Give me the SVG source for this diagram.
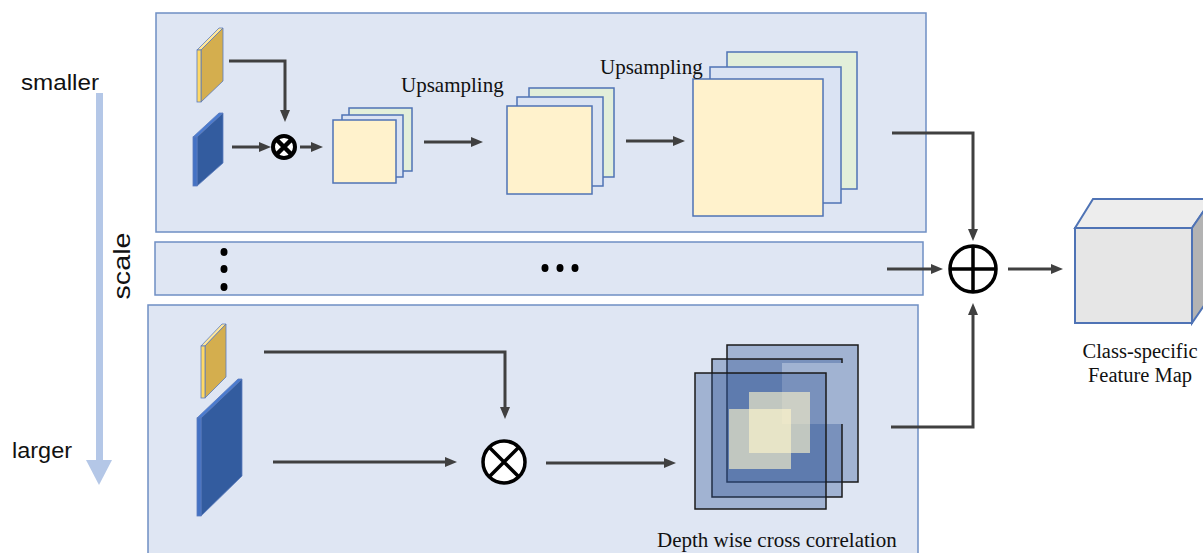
<svg xmlns="http://www.w3.org/2000/svg" width="1203" height="553" viewBox="0 0 1203 553">
<style>
.panel{fill:#dfe6f3;stroke:#6f8fc4;stroke-width:1.5}
.card{stroke:#4f73b5;stroke-width:1.5}
.cream{fill:#fff2cc}
.lblue{fill:#dae3f3}
.green{fill:#e2efda}
.conn{fill:none;stroke:#404040;stroke-width:3}
.serif{font-family:"Liberation Serif","Times New Roman",serif;fill:#111}
.sans{font-family:"Liberation Sans",Arial,sans-serif;fill:#111}
.dw{fill:#2f5496;fill-opacity:0.35}
.dwline{fill:none;stroke:#1a1a1a;stroke-width:1.5}
.light{fill:#fff5cc;fill-opacity:0.62}
.op{fill:#fff;stroke:#000}
.plate{stroke:#5b7bbd;stroke-width:0.8}
</style>
<defs>
<marker id="ah" markerUnits="userSpaceOnUse" markerWidth="12" markerHeight="10" viewBox="0 0 12 10" refX="2" refY="5" orient="auto">
<path d="M0,0 L12,5 L0,10 z" fill="#404040"/>
</marker>
</defs>

<!-- scale indicator -->
<g id="scale">
<rect x="96" y="93" width="7" height="368" fill="#b4c7e7"/>
<polygon points="86,460 112,460 99,485" fill="#b4c7e7"/>
<text class="sans" x="21" y="90" font-size="22" textLength="78" lengthAdjust="spacingAndGlyphs">smaller</text>
<text class="sans" x="12" y="458" font-size="22" textLength="60" lengthAdjust="spacingAndGlyphs">larger</text>
<text class="sans" transform="translate(130,266) rotate(-90)" text-anchor="middle" font-size="24" textLength="67" lengthAdjust="spacingAndGlyphs">scale</text>
</g>

<!-- panels -->
<g id="panel-top">
<rect class="panel" x="156" y="13" width="770" height="219"/>
</g>
<g id="panel-mid">
<rect class="panel" x="155" y="242" width="768" height="53"/>
<ellipse cx="224" cy="252" rx="3.5" ry="4" fill="#000"/>
<ellipse cx="224" cy="269" rx="3.5" ry="4" fill="#000"/>
<ellipse cx="224" cy="287" rx="3.5" ry="4" fill="#000"/>
<ellipse cx="545" cy="268" rx="3.5" ry="4" fill="#000"/>
<ellipse cx="560" cy="268" rx="3.5" ry="4" fill="#000"/>
<ellipse cx="575" cy="268" rx="3.5" ry="4" fill="#000"/>
</g>
<g id="panel-bottom">
<rect class="panel" x="148" y="305" width="770" height="260"/>
</g>

<!-- top branch -->
<g id="top-template">
<polygon class="plate" points="197,50 219,28 223,28 201,50" fill="#ffe699"/>
<polygon class="plate" points="201,50 223,28 223,81 201,102" fill="#d4ae4e"/>
<rect class="plate" x="197" y="50" width="4" height="52" fill="#ffd966"/>
</g>
<g id="top-search">
<polygon class="plate" points="193,137 219,113 223,113 197,137" fill="#4a7bd0"/>
<polygon class="plate" points="197,137 223,113 223,163 197,186" fill="#335c9f"/>
<rect class="plate" x="193" y="137" width="4" height="49" fill="#4472c4"/>
</g>
<g id="top-xcorr">
<circle class="op" cx="284" cy="147" r="11" stroke-width="4"/>
<path d="M277,140 L291,154 M291,140 L277,154" stroke="#000" stroke-width="4.5"/>
</g>
<g id="stack1">
<rect class="card green" x="349" y="108" width="63" height="63"/>
<rect class="card lblue" x="342" y="115" width="61" height="62"/>
<rect class="card cream" x="333" y="120" width="63" height="63"/>
</g>
<g id="stack2">
<rect class="card green" x="529" y="88" width="85" height="89"/>
<rect class="card lblue" x="517" y="97" width="86" height="89"/>
<rect class="card cream" x="507" y="106" width="85" height="88"/>
</g>
<g id="stack3">
<rect class="card green" x="727" y="52" width="130" height="137"/>
<rect class="card lblue" x="710" y="67" width="131" height="136"/>
<rect class="card cream" x="693" y="79" width="130" height="137"/>
</g>
<g id="labels-up">
<text class="serif" x="401" y="92" font-size="21">Upsampling</text>
<text class="serif" x="600" y="74" font-size="21">Upsampling</text>
</g>

<!-- bottom branch -->
<g id="bottom-template">
<polygon class="plate" points="201,346 222,324 226,324 205,346" fill="#ffe699"/>
<polygon class="plate" points="205,346 226,324 226,377 205,398" fill="#d4ae4e"/>
<rect class="plate" x="201" y="346" width="4" height="52" fill="#ffd966"/>
</g>
<g id="bottom-search">
<polygon class="plate" points="197,418 238,379 242,379 201,418" fill="#4a7bd0"/>
<polygon class="plate" points="201,418 242,379 242,476 201,516" fill="#335c9f"/>
<rect class="plate" x="197" y="418" width="4" height="98" fill="#4472c4"/>
</g>
<g id="bottom-xcorr">
<circle class="op" cx="504" cy="462" r="21" stroke-width="3.5"/>
<path d="M489,447 L519,477 M519,447 L489,477" stroke="#000" stroke-width="3.5"/>
</g>
<g id="depthwise">
<rect class="dw" x="727" y="345" width="131" height="137"/>
<rect class="dwline" x="727" y="345" width="131" height="137"/>
<polygon class="dw" points="712,359 842,359 842,363 782,363 782,424 842,424 842,497 712,497"/>
<path class="dwline" d="M842,363 V359 H712 V497 H842 V424"/>
<rect class="dw" x="695" y="373" width="131" height="136"/>
<rect class="dwline" x="695" y="373" width="131" height="136"/>
<rect class="light" x="749" y="392" width="61" height="61"/>
<rect class="light" x="729" y="409" width="62" height="60"/>
<text class="serif" x="657" y="547" font-size="21">Depth wise cross correlation</text>
</g>

<!-- sum and output -->
<g id="sum">
<circle class="op" cx="973" cy="269" r="23" stroke-width="3.5"/>
<path d="M950,269 H996 M973,246 V292" stroke="#000" stroke-width="3.5"/>
</g>
<g id="output">
<polygon points="1075,228 1093,199 1212,199 1192,228" fill="#ededed" stroke="#4f73b5" stroke-width="2"/>
<polygon points="1192,228 1212,199 1212,294 1192,323" fill="#b3b3b3" stroke="#4f73b5" stroke-width="2"/>
<rect x="1075" y="228" width="117" height="95" fill="#e6e6e6" stroke="#4f73b5" stroke-width="2"/>
<text class="serif" x="1140" y="358" font-size="20.5" text-anchor="middle">Class-specific</text>
<text class="serif" x="1140" y="382" font-size="20.5" text-anchor="middle">Feature Map</text>
</g>

<!-- connectors -->
<g id="connectors">
<path class="conn" d="M229,61 H285 V112" marker-end="url(#ah)"/>
<path class="conn" d="M232,147 H261" marker-end="url(#ah)"/>
<path class="conn" d="M300,147 H313" marker-end="url(#ah)"/>
<path class="conn" d="M424,142 H473" marker-end="url(#ah)"/>
<path class="conn" d="M626,141 H675" marker-end="url(#ah)"/>
<path class="conn" d="M892,133 H973 V231" marker-end="url(#ah)"/>
<path class="conn" d="M887,269 H933" marker-end="url(#ah)"/>
<path class="conn" d="M1008,269 H1053" marker-end="url(#ah)"/>
<path class="conn" d="M891,427 H973 V313" marker-end="url(#ah)"/>
<path class="conn" d="M264,352 H505 V409" marker-end="url(#ah)"/>
<path class="conn" d="M273,462 H447" marker-end="url(#ah)"/>
<path class="conn" d="M546,463 H666" marker-end="url(#ah)"/>
</g>
</svg>
